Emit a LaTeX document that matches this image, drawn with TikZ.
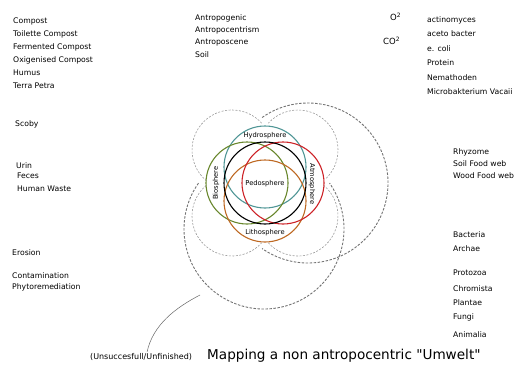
\documentclass[tikz,border=0pt]{standalone}
\usepackage{fontspec}
\setmainfont{DejaVu Sans}
\usetikzlibrary{positioning}

\definecolor{hydro}{RGB}{80,150,150}
\definecolor{litho}{RGB}{190,105,35}
\definecolor{bio}{RGB}{105,135,45}
\definecolor{atmo}{RGB}{205,35,40}

\begin{document}
\begin{tikzpicture}[
				x = 1pt, y = 1pt, % one unit per pixel
				item/.style = {anchor=west, inner sep=0pt, font=\fontsize{7.7}{8}\selectfont},
				spherename/.style = {inner sep=0pt, font=\fontsize{6.7}{7}\selectfont},
				ring/.style = {line width=1.1pt},
				bigring/.style = {draw=black!55, line width=0.9pt, dash pattern=on 2.5pt off 1.5pt},
				smallring/.style = {draw=black!40, line width=0.6pt, dash pattern=on 2pt off 1.5pt}
				]
				
				\useasboundingbox (0,0) rectangle (524,365);
				
				% dashed shells
				\draw[bigring] (308,182) ++(125:80) arc[start angle=125, end angle=-125, radius=80];
				\draw[bigring] (264,136) ++(145:80) arc[start angle=145, end angle=395, radius=80];
				\draw[smallring] (232,215) ++(42:40) arc[start angle=42, end angle=230, radius=40];
				\draw[smallring] (298,215) ++(-45:40) arc[start angle=-45, end angle=138, radius=40];
				\draw[smallring] (232,149) ++(130:40) arc[start angle=130, end angle=318, radius=40];
				\draw[smallring] (298,149) ++(222:40) arc[start angle=222, end angle=410, radius=40];
				
				% spheres
				\draw[ring, hydro] (265,198) circle (41);
				\draw[ring, bio] (247,182) circle (41);
				\draw[ring, litho] (265,164) circle (41);
				\draw[ring, atmo] (283,182) circle (41);
				\draw[ring, black] (265,182) circle (41);
				
				\node[spherename] (pedo) at (265,181) {Pedosphere};
				\node[spherename] (hydro) at (265,229) {Hydrosphere};
				\node[spherename] (litho) at (265,132) {Lithosphere};
				\node[spherename, rotate=90] (bio) at (216,182) {Biosphere};
				\node[spherename, rotate=-90] (atmo) at (312,181) {Atmosphere};
				
				% left column
				\node[item] (compost) at (13,344) {Compost};
				\node[item, below=13pt of compost.west, anchor=west] (toilette) {Toilette Compost};
				\node[item, below=13.5pt of toilette.west, anchor=west] (fermented) {Fermented Compost};
				\node[item, below=13pt of fermented.west, anchor=west] (oxigen) {Oxigenised Compost};
				\node[item, below=12.5pt of oxigen.west, anchor=west] (humus) {Humus};
				\node[item, below=13pt of humus.west, anchor=west] (terra) {Terra Petra};
				
				\node[item] (scoby) at (15,241) {Scoby};
				
				\node[item] (urin) at (16,199) {Urin};
				\node[item, below=10pt of urin.west, anchor=west, xshift=1pt] (feces) {Feces};
				\node[item, below=13pt of feces.west, anchor=west] (waste) {Human Waste};
				
				\node[item] (erosion) at (12,112) {Erosion};
				\node[item] (contam) at (12,89) {Contamination};
				\node[item, below=11pt of contam.west, anchor=west] (phyto) {Phytoremediation};
				
				% top
				\node[item] (anthro) at (195,347) {Antropogenic};
				\node[item, below=12.5pt of anthro.west, anchor=west] (centrism) {Antropocentrism};
				\node[item, below=12pt of centrism.west, anchor=west] (scene) {Antroposcene};
				\node[item, below=12pt of scene.west, anchor=west] (soil) {Soil};
				
				\node[item, font=\fontsize{8.5}{9}\selectfont] (oxygen) at (390,348) {O\textsuperscript{2}};
				\node[item, font=\fontsize{8.5}{9}\selectfont] (carbon) at (383,324) {CO\textsuperscript{2}};
				
				% right column
				\node[item] (actino) at (427,345) {actinomyces};
				\node[item, below=14pt of actino.west, anchor=west] (aceto) {aceto bacter};
				\node[item, below=15pt of aceto.west, anchor=west] (coli) {e. coli};
				\node[item, below=14pt of coli.west, anchor=west] (protein) {Protein};
				\node[item, below=15pt of protein.west, anchor=west] (nema) {Nemathoden};
				\node[item, below=14pt of nema.west, anchor=west] (micro) {Microbakterium Vacaii};
				
				\node[item] (rhyzome) at (453,213) {Rhyzome};
				\node[item, below=12pt of rhyzome.west, anchor=west] (soilweb) {Soil Food web};
				\node[item, below=12pt of soilweb.west, anchor=west] (woodweb) {Wood Food web};
				
				\node[item] (bacteria) at (453,130) {Bacteria};
				\node[item, below=14pt of bacteria.west, anchor=west] (archae) {Archae};
				\node[item] (protozoa) at (453,92) {Protozoa};
				\node[item, below=16pt of protozoa.west, anchor=west] (chromista) {Chromista};
				\node[item, below=14pt of chromista.west, anchor=west] (plantae) {Plantae};
				\node[item, below=14pt of plantae.west, anchor=west] (fungi) {Fungi};
				\node[item, below=18pt of fungi.west, anchor=west] (animalia) {Animalia};
				
				% caption
				\node[inner sep=0pt, anchor=base west, font=\fontsize{8}{9}\selectfont] (unfinished) at (90,6) {(Unsuccesfull/Unfinished)};
				\node[inner sep=0pt, anchor=base west, font=\fontsize{13.6}{15}\selectfont] (title) at (207,6) {Mapping a non antropocentric \textquotedbl Umwelt\textquotedbl};
				
				\coordinate (tail) at (200,70);
				\draw[black!60, line width=0.5pt] (tail) .. controls (175,57) and (153,40) .. ([xshift=6pt, yshift=1pt]unfinished.north);
\end{tikzpicture}
\end{document}
